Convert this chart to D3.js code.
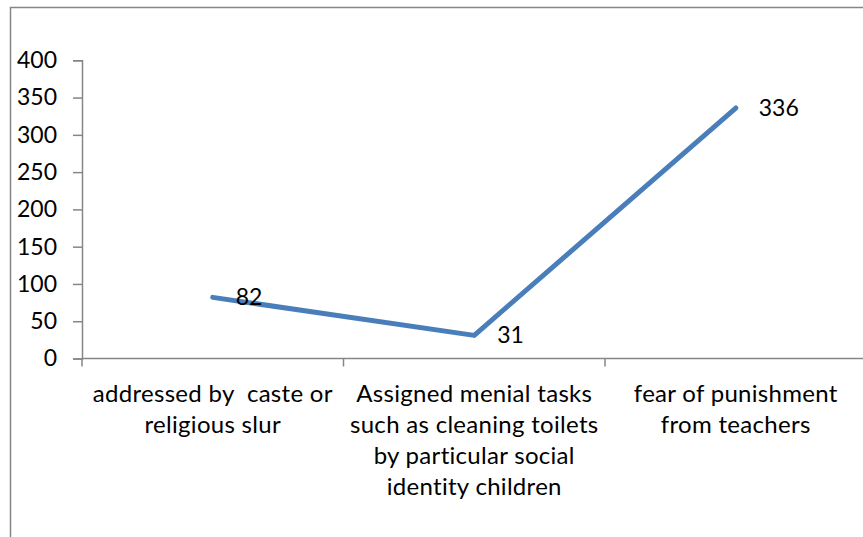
<!DOCTYPE html>
<html>
<head>
<meta charset="utf-8">
<script src="https://cdn.jsdelivr.net/npm/d3@7/dist/d3.min.js"></script>
<style>
  html, body { margin: 0; padding: 0; background: #fff; }
  svg text { font-family: Lato, "Open Sans", sans-serif; fill: #000; white-space: pre; }
</style>
</head>
<body>
<svg id="chart" width="863" height="537"></svg>
<script>
// Incidents reported per category
const categories = [
  "addressed by  caste or religious slur",
  "Assigned menial tasks such as cleaning toilets by particular social identity children",
  "fear of punishment from teachers"
];
// Wrapped lines for the category axis labels
const categoryLines = [
  ["addressed by  caste or", "religious slur"],
  ["Assigned menial tasks", "such as cleaning toilets", "by particular social", "identity children"],
  ["fear of punishment", "from teachers"]
];
const values = [82, 31, 336];
const yTicks = [0, 50, 100, 150, 200, 250, 300, 350, 400];

const svg = d3.select("#chart");
const plot = { left: 82, right: 866.5, top: 60.3, bottom: 358.5 };
const axisColor = "#868686";
const fontSize = 23;

// Outer chart frame
svg.append("rect")
  .attr("x", 10.5).attr("y", 7.5)
  .attr("width", 900).attr("height", 600)
  .attr("fill", "none").attr("stroke", axisColor).attr("stroke-width", 1.5);

const x = d3.scaleBand().domain(categories).range([plot.left, plot.right]).padding(0);
const y = d3.scaleLinear().domain([0, 400]).range([plot.bottom, plot.top]);

// Y axis
const yAxis = d3.axisLeft(y).tickValues(yTicks).tickSize(9).tickPadding(16).tickFormat(d3.format("d"));
const gy = svg.append("g").attr("transform", `translate(${plot.left},0)`).call(yAxis);
gy.select(".domain").attr("stroke", axisColor).attr("stroke-width", 1.5);
gy.selectAll(".tick line").attr("stroke", axisColor).attr("stroke-width", 1.5);
gy.selectAll(".tick text").attr("font-size", fontSize).attr("font-family", "Lato").attr("fill", "#000");

// X axis line and band boundary ticks
const gx = svg.append("g").attr("transform", `translate(0,${plot.bottom})`);
gx.append("line")
  .attr("x1", plot.left).attr("x2", plot.right)
  .attr("stroke", axisColor).attr("stroke-width", 1.5);
const bounds = categories.map(c => x(c)).concat([x(categories[categories.length - 1]) + x.bandwidth()]);
gx.selectAll("line.bt").data(bounds).join("line")
  .attr("class", "bt")
  .attr("x1", d => d).attr("x2", d => d)
  .attr("y1", 0).attr("y2", 8)
  .attr("stroke", axisColor).attr("stroke-width", 1.5);

// Category labels
const cx = c => x(c) + x.bandwidth() / 2;
categories.forEach((c, i) => {
  const t = svg.append("text")
    .attr("x", cx(c)).attr("text-anchor", "middle")
    .attr("font-size", 24)
    .attr("letter-spacing", 0.3);
  categoryLines[i].forEach((ln, j) => {
    t.append("tspan").attr("x", cx(c)).attr("y", 401.7 + j * 31).text(ln);
  });
});

// Series line
const line = d3.line().x((d, i) => cx(categories[i])).y(d => y(d));
svg.append("path")
  .datum(values)
  .attr("d", line)
  .attr("fill", "none")
  .attr("stroke", "#4A7EBB")
  .attr("stroke-width", 5)
  .attr("stroke-linecap", "round")
  .attr("stroke-linejoin", "round");

// Value labels to the right of each point
svg.selectAll("text.val").data(values).join("text")
  .attr("class", "val")
  .attr("x", (d, i) => cx(categories[i]) + 23)
  .attr("y", d => y(d))
  .attr("dy", "0.35em")
  .attr("font-size", fontSize)
  .text(d => d);
</script>
</body>
</html>
